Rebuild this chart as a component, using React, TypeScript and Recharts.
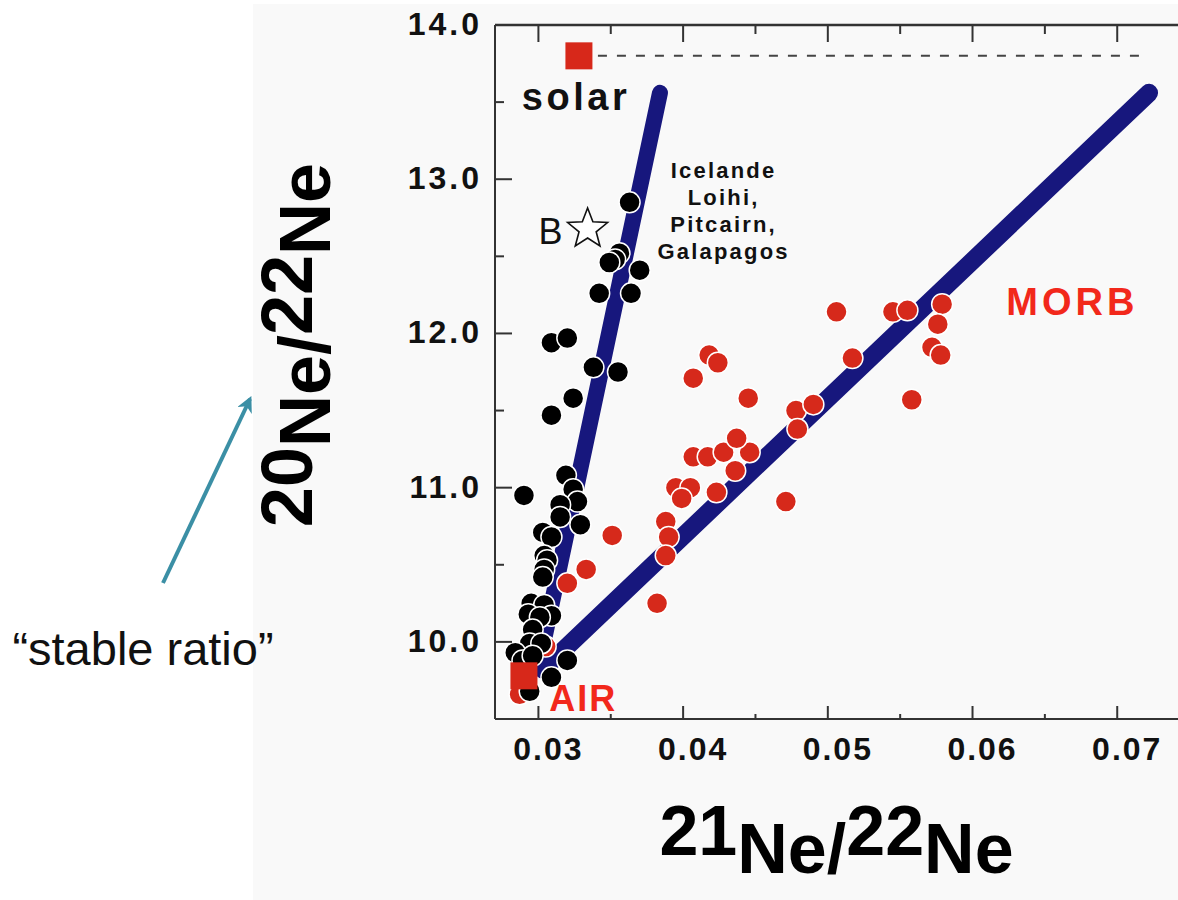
import React from 'react';
import { ComposedChart, Scatter, Line, XAxis, YAxis } from 'recharts';

const W = 1178;
const H = 900;
const FONT = '"Liberation Sans", Arial, Helvetica, sans-serif';

const NAVY = '#17177d';
const DOT_RED = '#d6291b';
const TEXT_RED = '#f2281b';

// axis ranges and ticks (majors carry a label, halves are minor marks)
const xDomain: [number, number] = [0.027, 0.0742];
const yDomain: [number, number] = [9.5, 14];
const xTicks = [0.03, 0.035, 0.04, 0.045, 0.05, 0.055, 0.06, 0.065, 0.07];
const yTicks = [10, 10.5, 11, 11.5, 12, 12.5, 13, 13.5, 14];

// 21Ne/22Ne, 20Ne/22Ne — ocean island basalts (Iceland, Loihi, Pitcairn, Galapagos)
const oib: [number, number][] = [
  [0.0363, 12.85], [0.0356, 12.52], [0.0353, 12.48], [0.0349, 12.46], [0.037, 12.41],
  [0.0342, 12.26], [0.0364, 12.26], [0.0309, 11.94], [0.032, 11.97], [0.0338, 11.78],
  [0.0355, 11.75], [0.0324, 11.58], [0.0309, 11.47], [0.0319, 11.08], [0.029, 10.95],
  [0.0324, 10.99], [0.0327, 10.91], [0.0315, 10.89], [0.0315, 10.81], [0.0329, 10.76],
  [0.0303, 10.71], [0.0309, 10.68], [0.0304, 10.56], [0.0306, 10.53], [0.0304, 10.47],
  [0.0303, 10.42], [0.0295, 10.25], [0.0304, 10.24], [0.0309, 10.17], [0.0293, 10.18],
  [0.0301, 10.16], [0.0296, 10.08], [0.0294, 9.99], [0.0302, 9.99], [0.0284, 9.93],
  [0.0289, 9.88], [0.0296, 9.91], [0.032, 9.88], [0.0309, 9.77], [0.0294, 9.68],
];

// mid-ocean ridge basalts
const morb: [number, number][] = [
  [0.0305, 9.97], [0.0287, 9.66], [0.032, 10.38], [0.0333, 10.47], [0.0351, 10.69],
  [0.0382, 10.25], [0.0388, 10.78], [0.039, 10.68], [0.0388, 10.56], [0.0395, 11.0],
  [0.0405, 11.0], [0.0399, 10.93], [0.0423, 10.97], [0.0407, 11.2], [0.0417, 11.2],
  [0.0428, 11.23], [0.0446, 11.23], [0.0436, 11.11], [0.0437, 11.32], [0.0445, 11.58],
  [0.0407, 11.71], [0.0418, 11.86], [0.0424, 11.81], [0.0471, 10.91], [0.0478, 11.5],
  [0.049, 11.54], [0.0479, 11.38], [0.0506, 12.14], [0.0517, 11.84], [0.0545, 12.14],
  [0.0555, 12.15], [0.0558, 11.57], [0.0579, 12.19], [0.0576, 12.06], [0.0572, 11.91],
  [0.0578, 11.86],
];

const air: [number, number] = [0.029, 9.78];
const solar: [number, number] = [0.0328, 13.8];
const sampleB: [number, number] = [0.0334, 12.69];

// mixing trends from air
const oibTrend: [number, number][] = [[0.0302, 9.93], [0.0384, 13.56]];
const morbTrend: [number, number][] = [[0.0303, 9.82], [0.0722, 13.56]];
const solarLevel: [number, number][] = [[0.0328, 13.8], [0.0721, 13.8]];

const notes = [
  { id: 'solar', x: 0.0326, y: 13.45, text: ['solar'] },
  { id: 'air', x: 0.0331, y: 9.55, text: ['AIR'] },
  { id: 'morb', x: 0.0669, y: 12.12, text: ['MORB'] },
  { id: 'oib', x: 0.0428, y: 13.01, text: ['Icelande', 'Loihi,', 'Pitcairn,', 'Galapagos'] },
];

const noteStyle: Record<string, { size: number; spacing: number; color: string; lead?: number }> = {
  solar: { size: 38, spacing: 3.5, color: '#111' },
  air: { size: 36, spacing: 2, color: TEXT_RED },
  morb: { size: 38, spacing: 4, color: TEXT_RED },
  oib: { size: 22, spacing: 2.2, color: '#111', lead: 27 },
};

const toPts = (arr: [number, number][]) => arr.map(([x, y]) => ({ x, y }));

const isMajor = (v: number, k: number) => Math.abs(v * k - Math.round(v * k)) < 1e-6;

// upper frame of the box, along the top of the value range
const topEdge = xDomain.map((x) => ({ x, y: yDomain[1] }));
const topTicks = xTicks.map((x) => ({ x, y: yDomain[1], major: isMajor(x, 100) }));

// left axis: ticks point into the plot
const YTick = (props: any) => {
  const { x, y, payload } = props;
  const edge = x + 13;
  const major = isMajor(payload.value, 1);
  return (
    <g>
      <line x1={edge} x2={edge + (major ? 17 : 9)} y1={y} y2={y} stroke="#333" strokeWidth={2} />
      {major && (
        <text x={x} y={y} dy={-1} textAnchor="end" dominantBaseline="central" fontFamily={FONT}
          fontWeight="bold" fontSize={32} letterSpacing={3} fill="#111">
          {payload.value.toFixed(1)}
        </text>
      )}
    </g>
  );
};

const XTick = (props: any) => {
  const { x, y, payload } = props;
  const edge = y - 16;
  const major = isMajor(payload.value, 100);
  return (
    <g>
      <line x1={x} x2={x} y1={edge} y2={edge - (major ? 13 : 5)} stroke="#333" strokeWidth={2} />
      {major && (
        <text x={x + 10} y={y + 25} textAnchor="middle" fontFamily={FONT} fontWeight="bold"
          fontSize={32} letterSpacing={2} fill="#111">
          {payload.value.toFixed(2)}
        </text>
      )}
    </g>
  );
};

// marks hanging down from the upper frame
const TopMark = (p: any) => (
  <line x1={p.cx} x2={p.cx} y1={p.cy} y2={p.cy + (p.payload.major ? 17 : 9)} stroke="#333" strokeWidth={2} />
);

const renderXTitle = (p: any) => {
  const vb = p.viewBox;
  return (
    <text x={vb.x + vb.width / 2} y={vb.y + 154} textAnchor="middle" fontFamily={FONT}
      fontWeight="bold" fontSize={70} fill="#000">
      <tspan dy={-18}>21</tspan>
      <tspan dy={18}>Ne/</tspan>
      <tspan dy={-18}>22</tspan>
      <tspan dy={18}>Ne</tspan>
    </text>
  );
};

const renderYTitle = (p: any) => {
  const vb = p.viewBox;
  return (
    <text transform={`translate(${vb.x - 65}, ${vb.y + 320}) rotate(-90)`} textAnchor="middle"
      fontFamily={FONT} fontWeight="bold" fontSize={72} fill="#000">
      <tspan dy={-18}>20</tspan>
      <tspan dy={18}>Ne/</tspan>
      <tspan dy={-18}>22</tspan>
      <tspan dy={18}>Ne</tspan>
    </text>
  );
};

const Dot = (fill: string) => (p: any) => (
  <circle cx={p.cx} cy={p.cy} r={10.5} fill={fill} stroke="#fff" strokeWidth={1.5} />
);

const Square = (p: any) => (
  <rect x={p.cx - 13.5} y={p.cy - 13.5} width={27} height={27} fill="#d7281a" />
);

const Star = (p: any) => {
  const pts: string[] = [];
  for (let i = 0; i < 10; i++) {
    const r = i % 2 === 0 ? 21 : 9;
    const a = -Math.PI / 2 + (i * Math.PI) / 5;
    pts.push(`${p.cx + r * Math.cos(a)},${p.cy + 2 + r * Math.sin(a)}`);
  }
  return (
    <g>
      <polygon points={pts.join(' ')} fill="#fff" stroke="#111" strokeWidth={1.6} strokeLinejoin="miter" />
      <text x={p.cx - 37} y={p.cy + 17} textAnchor="middle" fontFamily={FONT} fontSize={36} fill="#111">
        B
      </text>
    </g>
  );
};

const Note = (p: any) => {
  const s = noteStyle[p.payload.id];
  const lines: string[] = p.payload.text;
  return (
    <text x={p.cx} y={p.cy} textAnchor="middle" fontFamily={FONT} fontWeight="bold"
      fontSize={s.size} letterSpacing={s.spacing} fill={s.color}>
      {lines.map((t, i) => (
        <tspan key={t} x={p.cx} dy={i === 0 ? 0 : s.lead}>
          {t}
        </tspan>
      ))}
    </text>
  );
};

export default function App() {
  return (
    <div style={{ position: 'absolute', left: 0, top: 0, width: W, height: H, background: '#fff', overflow: 'hidden' }}>
      <div style={{ position: 'absolute', left: 253, top: 4, right: 0, bottom: 0, background: '#f9f9f9' }} />

      <svg width={W} height={H} style={{ position: 'absolute', left: 0, top: 0 }}>
        <defs>
          <marker id="head" viewBox="0 0 10 10" refX={8} refY={5} markerWidth={4} markerHeight={4} orient="auto">
            <path d="M0,0 L10,5 L0,10 L3,5 Z" fill="#3b8fa5" />
          </marker>
        </defs>
        <line x1={163} y1={583} x2={250} y2={399} stroke="#3b8fa5" strokeWidth={4} markerEnd="url(#head)" />
        <text x={143} y={665} textAnchor="middle" fontFamily={FONT} fontSize={47} fill="#111">
          “stable ratio”
        </text>
      </svg>

      <div style={{ position: 'absolute', left: 0, top: 0 }}>
        <ComposedChart width={W} height={H} margin={{ top: 25, right: 0, left: 395, bottom: 121 }}>
          <XAxis
            type="number"
            dataKey="x"
            domain={xDomain}
            ticks={xTicks}
            interval={0}
            height={60}
            tickSize={0}
            tickMargin={16}
            tickLine={false}
            axisLine={{ stroke: '#333', strokeWidth: 2 }}
            tick={<XTick />}
            label={{ content: renderXTitle }}
          />
          <YAxis
            type="number"
            dataKey="y"
            domain={yDomain}
            ticks={yTicks}
            interval={0}
            width={100}
            tickSize={0}
            tickMargin={13}
            tickLine={false}
            axisLine={{ stroke: '#333', strokeWidth: 2 }}
            tick={<YTick />}
            label={{ content: renderYTitle }}
          />

          <Line data={topEdge} dataKey="y" type="linear" stroke="#333" strokeWidth={2.5}
            dot={false} activeDot={false} isAnimationActive={false} />
          <Scatter data={topTicks} dataKey="y" shape={TopMark} isAnimationActive={false} />

          <Line data={toPts(solarLevel)} dataKey="y" type="linear" stroke="#444" strokeWidth={2}
            strokeDasharray="9 10" dot={false} activeDot={false} isAnimationActive={false} />
          <Line data={toPts(morbTrend)} dataKey="y" type="linear" stroke={NAVY} strokeWidth={18}
            strokeLinecap="round" dot={false} activeDot={false} isAnimationActive={false} />
          <Line data={toPts(oibTrend)} dataKey="y" type="linear" stroke={NAVY} strokeWidth={16}
            strokeLinecap="round" dot={false} activeDot={false} isAnimationActive={false} />

          <Scatter data={toPts(morb)} dataKey="y" shape={Dot(DOT_RED)} isAnimationActive={false} />
          <Scatter data={toPts(oib)} dataKey="y" shape={Dot('#000')} isAnimationActive={false} />
          <Scatter data={toPts([air, solar])} dataKey="y" shape={Square} isAnimationActive={false} />
          <Scatter data={toPts([sampleB])} dataKey="y" shape={Star} isAnimationActive={false} />
          <Scatter data={notes} dataKey="y" shape={Note} isAnimationActive={false} />
        </ComposedChart>
      </div>
    </div>
  );
}
